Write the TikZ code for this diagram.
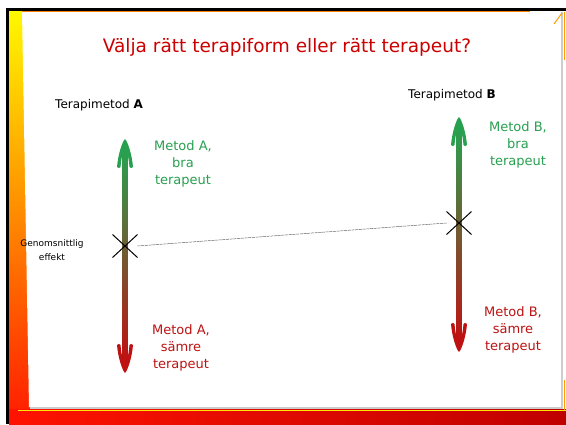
\documentclass[tikz,border=0pt]{standalone}
\usepackage{fontspec}
\setmainfont{DejaVu Sans}
\usetikzlibrary{calc, shapes.misc}

\definecolor{titelrod}{RGB}{204,0,0}
\definecolor{metodgron}{RGB}{40,160,80}
\definecolor{metodrod}{RGB}{190,18,18}
\definecolor{pilbrun}{RGB}{125,85,45}

\begin{document}
\begin{tikzpicture}[x=1pt, y=-1pt,
  etikett/.style={align=center, inner sep=0pt, font=\fontsize{13}{17}\selectfont},
  rubrik/.style={anchor=west, inner sep=0pt, font=\fontsize{12}{14}\selectfont},
  kryss/.style={cross out, draw=black, line width=1pt, minimum width=24pt,
                minimum height=22pt, inner sep=0pt},
  pilspets/.pic={
    \fill[pic actions] (0,0) .. controls (-3,3) and (-7,16) .. (-8,28)
      .. controls (-7,29.5) and (-5,29.5) .. (-4.5,28)
      .. controls (-4,22) and (-3,17) .. (-2.5,15) -- (2.5,15)
      .. controls (3,17) and (4,22) .. (4.5,28)
      .. controls (5,29.5) and (7,29.5) .. (8,28)
      .. controls (7,16) and (3,3) .. (0,0) -- cycle;
  }]
  \useasboundingbox (0,0) rectangle (566,424);
  % Ram
  \fill[white] (0,0) rectangle (566,424);
  \shade[top color=yellow!95!orange, middle color=orange, bottom color=red!80!orange]
    (9,11) rectangle (31,424);
  \shade[left color=red!85!orange, right color=red!75!black] (9,409) rectangle (566,424);
  \fill[white] (22,11) -- (561,11) -- (561,407) -- (29,407) -- cycle;
  \draw[black!20, line width=1.5pt] (30,408) -- (561.8,408) -- (561.8,12);
  \draw[yellow!90!orange, line width=1pt] (18,410) -- (566,410);
  \draw[orange, line width=0.6pt] (22,11.5) -- (530,11.5);
  \draw[orange!80!yellow, line width=1pt] (564,12) -- (564,60);
  \draw[orange!80!yellow, line width=1pt] (564,380) -- (564,410);
  \draw[orange!80!yellow, line width=1pt] (554,24) -- (562,13);
  \draw[black, line width=3pt] (7.5,424) -- (7.5,9.5) -- (566,9.5);
  % Rubriker
  \node[text=titelrod, font=\fontsize{18.5}{22}\selectfont] (titel) at (287,47)
    {Välja rätt terapiform eller rätt terapeut?};
  \node[rubrik] (rubrikA) at (55,105) {Terapimetod \textbf{A}};
  \node[rubrik] (rubrikB) at (408,95) {Terapimetod \textbf{B}};
  % Pilar
  \coordinate (Atopp) at (125,139);
  \coordinate (Abotten) at (125,373);
  \coordinate (Btopp) at (459,117);
  \coordinate (Bbotten) at (459,352);
  \shade[top color=metodgron, middle color=pilbrun, bottom color=metodrod]
    ($(Atopp)+(-2.5,14)$) rectangle ($(Abotten)+(2.5,-14)$);
  \shade[top color=metodgron, middle color=pilbrun, bottom color=metodrod]
    ($(Btopp)+(-2.5,14)$) rectangle ($(Bbotten)+(2.5,-14)$);
  \pic[fill=metodgron] at (Atopp) {pilspets};
  \pic[fill=metodrod, yscale=-1] at (Abotten) {pilspets};
  \pic[fill=metodgron] at (Btopp) {pilspets};
  \pic[fill=metodrod, yscale=-1] at (Bbotten) {pilspets};
  % Etiketter
  \node[etikett, text=metodgron] (braA) at (183,164) {Metod A,\\bra\\terapeut};
  \node[etikett, text=metodgron] (braB) at (518,145) {Metod B,\\bra\\terapeut};
  \node[etikett, text=metodrod] (samreA) at (181,348) {Metod A,\\sämre\\terapeut};
  \node[etikett, text=metodrod] (samreB) at (513,330) {Metod B,\\sämre\\terapeut};
  \node[etikett, font=\fontsize{9}{14}\selectfont] (medel) at (52,250)
    {Genomsnittlig\\effekt};
  % Medeleffekt
  \node[kryss] (xA) at (125,246) {};
  \node[kryss] (xB) at (459,223) {};
  \draw[black!60, line width=0.5pt, dash pattern=on 3pt off 0.7pt] (xA.east) -- (xB.west);
\end{tikzpicture}
\end{document}
